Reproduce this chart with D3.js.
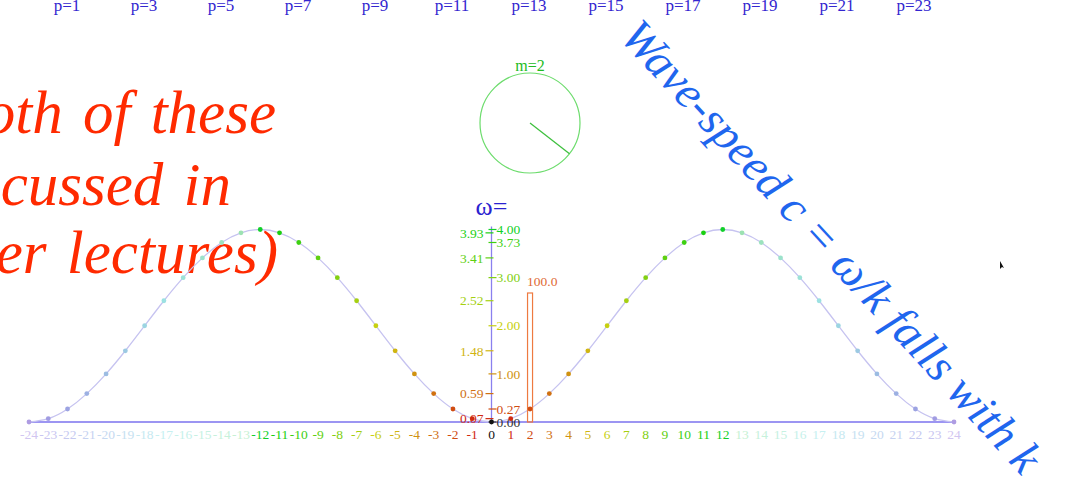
<!DOCTYPE html>
<html><head><meta charset="utf-8">
<script src="https://cdn.jsdelivr.net/npm/d3@7"></script>
<style>html,body{margin:0;padding:0;background:#fff;overflow:hidden}svg{display:block}</style>
</head><body>
<svg id="c" width="1067" height="484"></svg>
<script>
// ---- data ----
const kValues = [-24,-23,-22,-21,-20,-19,-18,-17,-16,-15,-14,-13,-12,-11,-10,-9,-8,-7,-6,-5,-4,-3,-2,-1,0,1,2,3,4,5,6,7,8,9,10,11,12,13,14,15,16,17,18,19,20,21,22,23,24];
const omegaSq = [0.00,0.07,0.27,0.59,1.00,1.48,2.00,2.52,3.00,3.41,3.73,3.93,4.00,3.93,3.73,3.41,3.00,2.52,2.00,1.48,1.00,0.59,0.27,0.07,0.00,0.07,0.27,0.59,1.00,1.48,2.00,2.52,3.00,3.41,3.73,3.93,4.00,3.93,3.73,3.41,3.00,2.52,2.00,1.48,1.00,0.59,0.27,0.07,0.00];
const leftTickK = [1,3,5,7,9,11];
const leftTickVals = [0.07,0.59,1.48,2.52,3.41,3.93];
const rightTickK = [0,2,4,6,8,10,12];
const rightTickVals = [0.00,0.27,1.00,2.00,3.00,3.73,4.00];
const pLabels = ["p=1","p=3","p=5","p=7","p=9","p=11","p=13","p=15","p=17","p=19","p=21","p=23"];
const barK = 2;
const barValue = 100.0;
const modeLabel = "m=2";
const modePhaseDeg = 37.8;
const noteLines = ["(Both of these","are discussed in","later lectures)"];
const speedNote = "Wave-speed c = \u03C9/k falls with k";

// ---- setup ----
const svg = d3.select("#c");
const serif = "'Liberation Serif','DejaVu Serif',serif";
const x = d3.scaleLinear().domain([-24,24]).range([29,954]);
const y = d3.scaleLinear().domain([0,4]).range([422,229.5]);
const hue = d3.scaleLinear().domain([1,12,24]).range([8,128,255]);
function col(k){
  const a = Math.abs(k);
  if (a===0) return "#111";
  if (a<=12) return d3.hsl(hue(a), 0.85, 0.44).formatHex();
  return d3.hsl(hue(a), 0.6, 0.86).formatHex();
}

// red note (cut off at left)
const noteX = [276,231,278], noteY = [133,205,273];
svg.append("g").selectAll("text").data(noteLines).join("text")
  .attr("x",(d,i)=>noteX[i]).attr("y",(d,i)=>noteY[i])
  .attr("text-anchor","end").attr("font-family",serif).attr("font-style","italic")
  .attr("font-size",61).attr("word-spacing",5).attr("fill","#ff2a00").text(d=>d);

// top p labels
const px = d3.scalePoint().domain(pLabels).range([67,914]);
svg.append("g").selectAll("text").data(pLabels).join("text")
  .attr("x",d=>px(d)).attr("y",11).attr("text-anchor","middle")
  .attr("font-family",serif).attr("font-size",17).attr("fill","#3326d0").text(d=>d);

// x axis line
svg.append("line").attr("x1",x(-24)).attr("x2",x(24)).attr("y1",y(0)).attr("y2",y(0))
  .attr("stroke","#7b72ee").attr("stroke-width",1.5);

// curve
const pts = kValues.map((k,i)=>[k,omegaSq[i]]);
svg.append("path").datum(pts)
  .attr("d", d3.line().x(d=>x(d[0])).y(d=>y(d[1])).curve(d3.curveNatural))
  .attr("fill","none").attr("stroke","#c6c3f0").attr("stroke-width",1.3);

// y axis
const x0 = x(0);
svg.append("line").attr("x1",x0).attr("x2",x0).attr("y1",y(0)).attr("y2",y(4)-3)
  .attr("stroke","#8a80ee").attr("stroke-width",1.3);
svg.append("text").attr("x",x0).attr("y",215).attr("text-anchor","middle")
  .attr("font-family",serif).attr("font-size",26).attr("fill","#2a22d0").text("\u03C9=");

const lt = svg.append("g");
leftTickVals.forEach((v,i)=>{
  const c = col(leftTickK[i]);
  lt.append("line").attr("x1",x0-6).attr("x2",x0+2).attr("y1",y(v)).attr("y2",y(v)).attr("stroke",c).attr("stroke-width",1.2);
  lt.append("text").attr("x",x0-8).attr("y",y(v)).attr("dy","0.35em").attr("text-anchor","end")
    .attr("font-family",serif).attr("font-size",13.5).attr("fill",c).text(v.toFixed(2));
});
rightTickVals.forEach((v,i)=>{
  const c = rightTickK[i]===0 ? "#333" : col(rightTickK[i]);
  lt.append("line").attr("x1",x0-3).attr("x2",x0+5).attr("y1",y(v)).attr("y2",y(v)).attr("stroke",c).attr("stroke-width",1.2);
  lt.append("text").attr("x",x0+5).attr("y",y(v)).attr("dy","0.35em").attr("text-anchor","start")
    .attr("font-family",serif).attr("font-size",13.5).attr("fill",c).text(v.toFixed(2));
});

// bar
const barScale = d3.scaleLinear().domain([0,100]).range([0,129]);
svg.append("rect").attr("x",x(barK)-2.5).attr("width",5)
  .attr("y",y(0)-barScale(barValue)).attr("height",barScale(barValue))
  .attr("fill","none").attr("stroke","#ee7a40").attr("stroke-width",1.2);
svg.append("text").attr("x",x(barK)-3).attr("y",y(0)-barScale(barValue)-7)
  .attr("font-family",serif).attr("font-size",13.5).attr("fill","#e06a35").text(barValue.toFixed(1));

// dots
svg.append("g").selectAll("circle").data(pts).join("circle")
  .attr("cx",d=>x(d[0])).attr("cy",d=>y(d[1])).attr("r",2.4)
  .attr("fill",d=>Math.abs(d[0])>12 ? d3.hsl(hue(Math.abs(d[0])),0.55,0.75).formatHex() : col(d[0]));

// x tick labels
svg.append("g").selectAll("text").data(kValues).join("text")
  .attr("x",d=>x(d)).attr("y",439).attr("text-anchor","middle")
  .attr("font-family",serif).attr("font-size",13.5).attr("fill",d=>col(d)).text(d=>d);

// mode circle
const cx = 530, cy = 123, r = 50;
svg.append("circle").attr("cx",cx).attr("cy",cy).attr("r",r).attr("fill","none")
  .attr("stroke","#6ddc6d").attr("stroke-width",1.2);
const a = modePhaseDeg*Math.PI/180;
svg.append("line").attr("x1",cx).attr("y1",cy).attr("x2",cx+r*Math.cos(a)).attr("y2",cy+r*Math.sin(a))
  .attr("stroke","#3fc03f").attr("stroke-width",1.3);
svg.append("text").attr("x",cx).attr("y",71).attr("text-anchor","middle")
  .attr("font-family",serif).attr("font-size",16).attr("fill","#22bb22").text(modeLabel);

// rotated wave-speed note
svg.append("text").attr("transform","translate(820,257) rotate(47.4)").attr("text-anchor","middle")
  .attr("font-family",serif).attr("font-style","italic").attr("font-size",47)
  .attr("fill","#1f66ee").text(speedNote);

// cursor mark
svg.append("path").attr("d","M1000,261 L1000,269 L1002,267 L1004,268 Z").attr("fill","#111");
</script>
</body></html>
